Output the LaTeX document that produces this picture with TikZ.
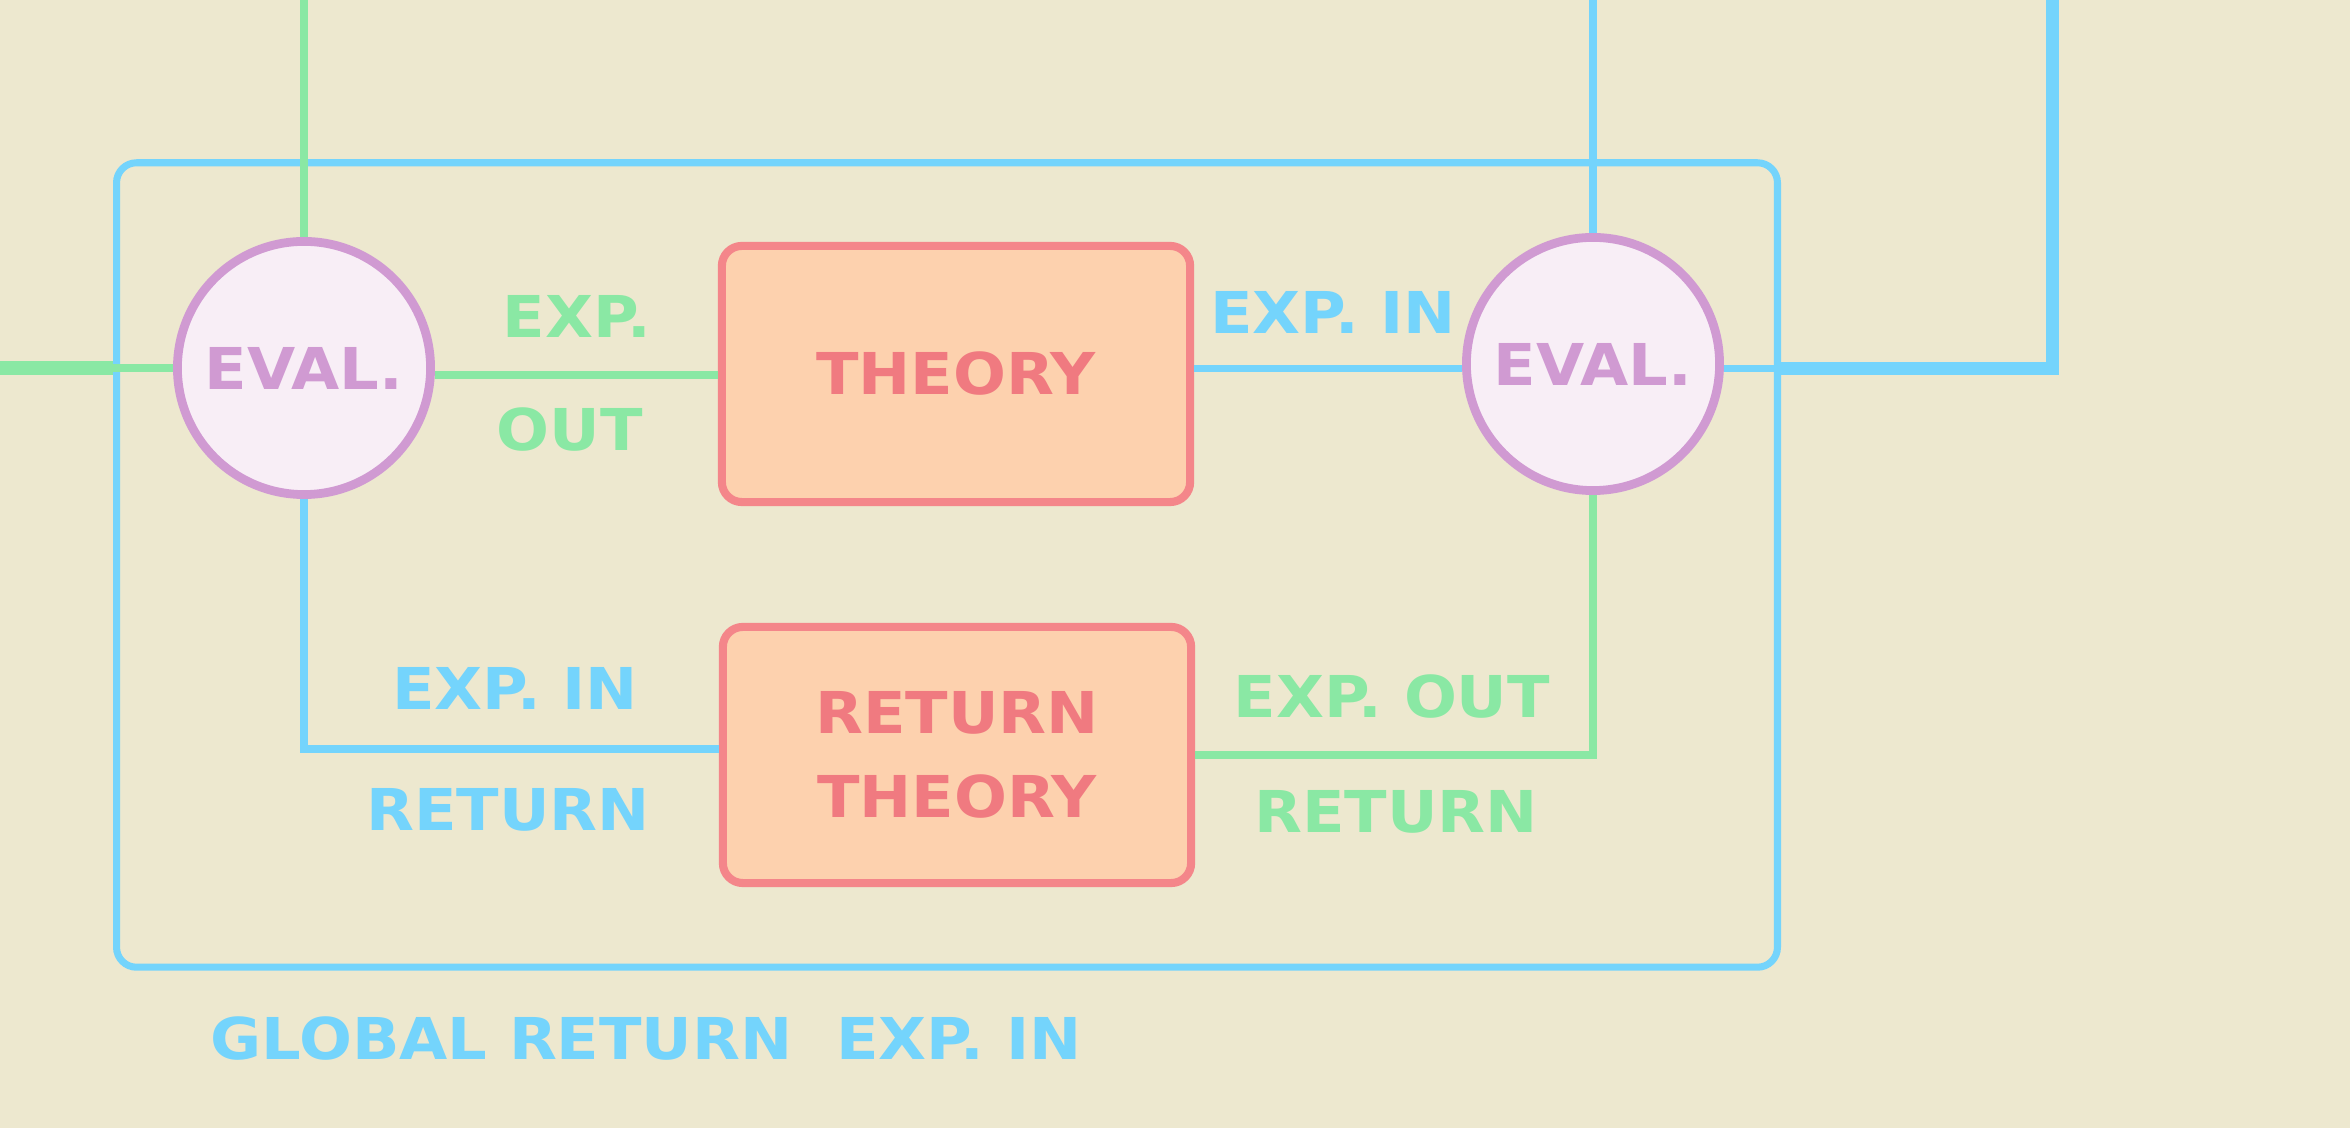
\documentclass[tikz,border=0pt]{standalone}
\usepackage{xcolor}
\usepackage{fontspec}
\usepackage{tikz}
\usetikzlibrary{calc}
\newfontfamily\labelfont[FakeStretch=1.08]{DejaVu Sans}
\definecolor{bgcream}{HTML}{EDE8CF}
\definecolor{skyline}{HTML}{74D4FC}
\definecolor{mintline}{HTML}{8AE8A4}
\definecolor{evalpurple}{HTML}{D09AD2}
\definecolor{evalfill}{HTML}{F8EEF6}
\definecolor{theoryred}{HTML}{F4868A}
\definecolor{theoryfill}{HTML}{FDD1AE}
\definecolor{theorytext}{HTML}{F07A80}

\begin{document}
\begin{tikzpicture}[x=0.01cm, y=-0.01cm,
        every node/.style={font=\labelfont\bfseries\fontsize{16.4}{19}\selectfont, inner sep=0pt},
        evalnode/.style={circle, draw=evalpurple, fill=evalfill, line width=2.5pt, minimum size=2.53cm, text=evalpurple},
        theorynode/.style={rectangle, rounded corners=0.2cm, draw=theoryred, fill=theoryfill, line width=2.3pt, minimum width=4.68cm, minimum height=2.56cm, text=theorytext, align=center},
        loopframe/.style={rectangle, rounded corners=0.2cm, draw=skyline, line width=2pt, minimum width=16.6cm, minimum height=8.04cm},
        blueline/.style={draw=skyline, line width=2.1pt},
        greenline/.style={draw=mintline, line width=2.1pt},
        bluelabel/.style={text=skyline},
        greenlabel/.style={text=mintline}]
        \fill[bgcream] (0,0) rectangle (2350,1128);
        \useasboundingbox (0,0) rectangle (2350,1128);
        
        \node[loopframe] (loop) at (947,565) {};
        \node[evalnode] (evalL) at (304,368) {EVAL.};
        \node[evalnode] (evalR) at (1593,364) {EVAL.};
        \node[theorynode] (theory) at (956,374) {THEORY};
        \node[theorynode, font=\labelfont\bfseries\fontsize{16.4}{24}\selectfont] (retTheory) at (957,755) {RETURN\\THEORY};
        
        \coordinate (topL) at (304,0);
        \coordinate (topR) at (1593,0);
        \coordinate (inL) at (0,368);
        \coordinate (outR) at (2052,0);
        
        \node[greenlabel] (expOutA) at (577,316) {EXP.};
        \node[greenlabel] (expOutB) at (570,430) {OUT};
        \node[bluelabel] (expInTop) at (1333,312) {EXP. IN};
        \node[bluelabel] (expInLow) at (515,688) {EXP. IN};
        \node[bluelabel] (returnL) at (508,810) {RETURN};
        \node[greenlabel] (expOutLow) at (1392,697) {EXP. OUT};
        \node[greenlabel] (returnR) at (1396,812) {RETURN};
        \node[bluelabel] (globalIn) at (646,1039) {GLOBAL RETURN~~EXP. IN};
        
        \draw[greenline] (topL) -- (evalL.north);
        \draw[greenline, line width=4pt] (inL) -- (inL -| loop.west);
        \draw[greenline] (inL -| loop.west) -- (evalL.west);
        \draw[greenline] (evalL.-3) -- (evalL.-3 -| theory.west);
        \draw[blueline] (topR) -- (evalR.north);
        \draw[blueline] (evalR.182) -- (evalR.182 -| theory.east);
        \draw[blueline] (evalR.-2) -- (evalR.-2 -| loop.east);
        \draw[blueline, line width=3.7pt] (evalR.-2 -| loop.east) -| (outR);
        \draw[blueline] (evalL.south) |- ([yshift=0.06cm]retTheory.west);
        \draw[greenline] (evalR.south) |- (retTheory.east);
    \end{tikzpicture}
\end{document}
